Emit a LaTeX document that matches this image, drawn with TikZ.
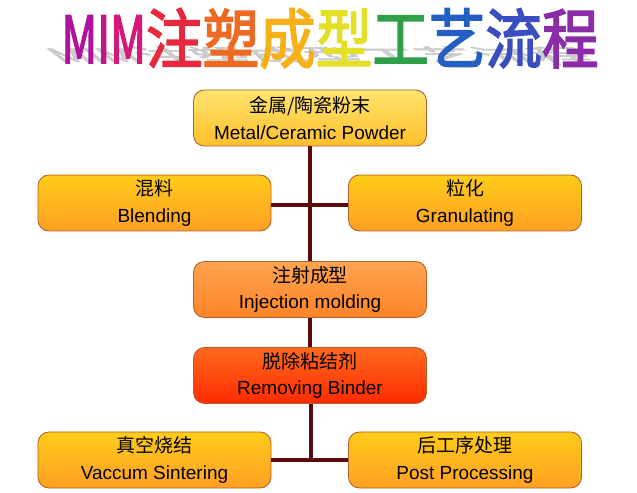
\documentclass[tikz,border=0pt]{standalone}
\usepackage{fontspec}
\setmainfont{Liberation Sans}
\newfontfamily\cjk{Noto Sans CJK SC}
\newfontfamily\cjkbold{Noto Sans CJK SC}[FakeBold=2.5]
\usetikzlibrary{positioning}

\definecolor{linkbrown}{HTML}{5A0C0C}
\definecolor{edgebrown}{HTML}{B0602A}
\newcommand{\narrow}[1]{\scalebox{0.78}[1]{#1}}
\newcommand{\ttltext}[1]{\scalebox{0.87}[1]{#1}}

\begin{document}
\begin{tikzpicture}[x=0.2mm,y=-0.2mm,
  every node/.style={font=\fontsize{10.8}{15}\selectfont},
  stepbox/.style={rounded corners=2.2mm,draw=edgebrown,line width=0.5pt,
    minimum width=46.6mm,minimum height=11.2mm,align=center,inner sep=1pt},
  palebox/.style={stepbox,top color={rgb,255:red,255;green,228;blue,112},bottom color={rgb,255:red,255;green,192;blue,42}},
  ambbox/.style={stepbox,top color={rgb,255:red,255;green,204;blue,24},bottom color={rgb,255:red,255;green,160;blue,36}},
  orgbox/.style={stepbox,top color={rgb,255:red,255;green,164;blue,80},bottom color={rgb,255:red,255;green,132;blue,40}},
  redbox/.style={stepbox,top color={rgb,255:red,255;green,106;blue,30},bottom color={rgb,255:red,255;green,42;blue,0}},
  link/.style={draw=linkbrown,line width=2.1pt}]
  \useasboundingbox (0,0) rectangle (637,493);
  % title with its slanted shadow
  \node[anchor=base,text=black!30,opacity=0.6,transform shape,xslant=-1.3,yscale=0.3,
    font=\fontsize{37}{40}\selectfont\cjkbold] (ttlshadow) at (330,63)
    {\ttltext{\narrow{M}\narrow{I}\narrow{M}注塑成型工艺流程}};
  \node[anchor=base,font=\fontsize{37}{40}\selectfont\cjkbold] (ttl) at (330,63)
    {\ttltext{\textcolor[HTML]{B0129C}{\narrow{M}}\textcolor[HTML]{C4148A}{\narrow{I}}%
     \textcolor[HTML]{D81878}{\narrow{M}}\textcolor[HTML]{E8283C}{注}%
     \textcolor[HTML]{EE6A22}{塑}\textcolor[HTML]{F8B018}{成}%
     \textcolor[HTML]{E4E028}{型}\textcolor[HTML]{30A048}{工}%
     \textcolor[HTML]{2460C4}{艺}\textcolor[HTML]{3A4EC0}{流}%
     \textcolor[HTML]{8A2CA8}{程}}};
  % process steps
  \node[palebox] (powder) at (310,118) {{\cjk 金属/陶瓷粉末}\\Metal/Ceramic Powder};
  \node[ambbox] (blend) at (154.5,203) {{\cjk 混料}\\Blending};
  \node[ambbox] (gran) at (465,203) {{\cjk 粒化}\\Granulating};
  \node[orgbox] (inject) at (310,289.5) {{\cjk 注射成型}\\Injection molding};
  \node[redbox] (debind) at (310,375.5) {{\cjk 脱除粘结剂}\\Removing Binder};
  \node[ambbox] (sinter) at (154.5,460) {{\cjk 真空烧结}\\Vaccum Sintering};
  \node[ambbox] (post) at (465,460) {{\cjk 后工序处理}\\Post Processing};
  \coordinate (split) at (311,460);
  \draw[link] (powder) -- (inject);
  \draw[link] (blend.east |- 0,205) -- (gran.west |- 0,205);
  \draw[link] (inject) -- (debind);
  \draw[link] (debind.south -| split) -- (split);
  \draw[link] (sinter) -- (post);
\end{tikzpicture}
\end{document}
